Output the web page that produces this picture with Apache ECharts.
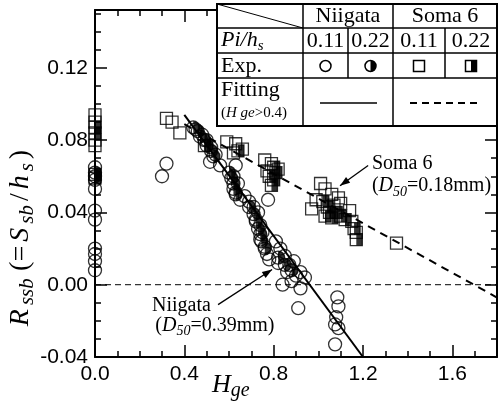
<!DOCTYPE html>
<html><head><meta charset="utf-8">
<script src="https://cdn.jsdelivr.net/npm/echarts@6/dist/echarts.min.js"></script>
<style>html,body{margin:0;padding:0;background:#fff}#c{width:503px;height:405px}</style>
</head><body><div id="c"></div>
<script>
// ---- data (Hge, Rssb) ----
const niigata011 = [
  [0,0.065],[0,0.058],[0,0.053],[0,0.041],[0,0.036],[0,0.020],[0,0.017],[0,0.013],[0,0.008],
  [0.32,0.067],[0.30,0.060],
  [0.45,0.086],[0.48,0.083],[0.50,0.080],[0.52,0.076],[0.54,0.072],[0.515,0.068],[0.56,0.066],
  [0.63,0.066],[0.62,0.060],[0.64,0.056],[0.63,0.051],[0.65,0.047],
  [0.67,0.049],[0.69,0.046],[0.71,0.043],[0.73,0.040],[0.72,0.036],[0.74,0.033],[0.75,0.029],
  [0.74,0.025],[0.76,0.021],[0.77,0.017],[0.78,0.014],[0.775,0.047],
  [0.81,0.024],[0.83,0.020],[0.85,0.016],[0.82,0.012],[0.87,0.011],[0.89,0.013],[0.86,0.007],
  [0.90,0.005],[0.92,0.007],[0.88,0.002],[0.94,0.004],[0.84,0.000],[0.92,-0.002],[0.91,-0.013],
  [1.085,-0.007],[1.09,-0.012],[1.08,-0.018],[1.075,-0.022],[1.09,-0.024],[1.075,-0.033]
];
const niigata022 = [
  [0,0.062],[0,0.060],
  [0.44,0.087],[0.46,0.085],[0.47,0.082],[0.49,0.080],[0.50,0.077],[0.52,0.074],[0.53,0.071],
  [0.60,0.062],[0.61,0.059],[0.62,0.056],[0.62,0.053],[0.63,0.050],
  [0.69,0.043],[0.71,0.039],[0.72,0.035],[0.73,0.031],[0.74,0.028],[0.745,0.024],[0.76,0.020],
  [0.82,0.015],[0.85,0.011],[0.88,0.008]
];
const soma011 = [
  [0,0.094],[0,0.090],[0,0.080],[0,0.077],
  [0.32,0.092],[0.345,0.090],[0.38,0.084],
  [0.59,0.079],[0.63,0.078],[0.62,0.073],[0.66,0.075],
  [0.76,0.069],[0.79,0.067],[0.82,0.064],[0.77,0.063],
  [1.01,0.056],[1.03,0.053],[0.99,0.047],[0.97,0.042],[1.06,0.050],[1.09,0.048],[1.10,0.045],
  [1.07,0.044],[1.14,0.041],[1.15,0.035],[1.17,0.029],[1.35,0.023]
];
const soma022 = [
  [0,0.087],[0,0.084],[0,0.061],[0,0.059],
  [0.49,0.077],[0.64,0.074],
  [0.78,0.060],[0.80,0.058],[0.79,0.055],[0.81,0.062],[0.80,0.065],
  [1.02,0.046],[1.04,0.043],[1.05,0.040],[1.03,0.038],[1.08,0.040],[1.10,0.038],[1.12,0.036],
  [1.16,0.031],[1.17,0.025],[1.06,0.037]
];
const niigataFit = [[0.4,0.094],[1.2,-0.04]];
const somaFit = [[0.4,0.0888],[1.8,-0.0071]];
const zeroLine = [[0,0],[1.8,0]];
const xTicks = {min:0, max:1.8, interval:0.4};
const yTicks = {min:-0.04, max:0.152, interval:0.04};

// ---- styles ----
const BLK = '#000';
const SERIF = 'Liberation Serif';
const SANS = 'Liberation Sans';
const halfCircle = 'path://M-1,0 M0,-1 A1,1 0 0 1 0,1 Z';
const halfSquare = 'path://M-1,-1 M0,-1 L1,-1 L1,1 L0,1 Z';
const CS = 13, SS = 12;

function axis(pos, show, fmt) {
  return {
    type:'value', position:pos, ...(pos==='bottom'||pos==='top'?xTicks:yTicks),
    axisLine:{show:true, onZero:false, lineStyle:{color:BLK, width:2}},
    axisTick:{show:true, inside:true, length:12, lineStyle:{color:BLK, width:1.5}},
    minorTick:{show:true, splitNumber:4, length:6, lineStyle:{color:BLK, width:1.5}},
    splitLine:{show:false},
    axisLabel:{show:show, color:BLK, fontFamily:SANS, fontSize:21, margin:7, formatter:fmt,
      showMaxLabel:false}
  };
}
const chart = echarts.init(document.getElementById('c'));
const openStyle = {color:'rgba(0,0,0,0)', borderColor:BLK, borderWidth:1.3};
chart.setOption({
  animation:false,
  grid:{left:95, right:6, top:10, bottom:48},
  xAxis:[axis('bottom', true, v=>v.toFixed(1)), axis('top', false)],
  yAxis:[axis('left', true, v=>v.toFixed(2)), axis('right', false)],
  series:[
    {type:'line', data:zeroLine, symbol:'none', lineStyle:{color:BLK, width:1, type:[6,4]}},
    {type:'line', data:niigataFit, symbol:'none', lineStyle:{color:BLK, width:2}},
    {type:'line', data:somaFit, symbol:'none', lineStyle:{color:BLK, width:2, type:[8,6]}},
    {type:'scatter', data:niigata011, symbol:'circle', symbolSize:CS, itemStyle:openStyle},
    {type:'scatter', data:niigata022, symbol:'circle', symbolSize:CS, itemStyle:openStyle},
    {type:'scatter', data:niigata022, symbol:halfCircle, symbolSize:CS, itemStyle:{color:BLK}},
    {type:'scatter', data:soma011, symbol:'rect', symbolSize:SS, itemStyle:openStyle},
    {type:'scatter', data:soma022, symbol:'rect', symbolSize:SS, itemStyle:openStyle},
    {type:'scatter', data:soma022, symbol:halfSquare, symbolSize:SS, itemStyle:{color:BLK}}
  ]
});

// ---- annotations & table ----
const somaLabel = [1.24, 0.067], somaLabel2 = [1.24, 0.0545];
const niiLabel = [0.255, -0.0115], niiLabel2 = [0.27, -0.0225];
const somaArrow = [[1.223,0.066],[1.097,0.0548]];
const niiArrow = [[0.551,-0.011],[0.793,0.0084]];
const px = p => chart.convertToPixel({gridIndex:0}, p);
const Z = 100;
const g = [];
function txt(x, y, text, opt) {
  g.push({type:'text', x, y, z:Z, style:Object.assign({text, fill:BLK, font:'21px "'+SERIF+'"',
    align:'left', verticalAlign:'middle'}, opt||{})});
}
function ln(x1,y1,x2,y2,w,dash) {
  g.push({type:'line', z:Z, shape:{x1,y1,x2,y2}, style:{stroke:BLK, lineWidth:w||1.5, lineDash:dash||null}});
}
function arrow(a, b) {
  const p1 = px(a), p2 = px(b);
  ln(p1[0],p1[1],p2[0],p2[1],1.3);
  const ang = Math.atan2(p2[1]-p1[1], p2[0]-p1[0]);
  const L = 10, W = 3.5;
  const bx = p2[0]-L*Math.cos(ang), by = p2[1]-L*Math.sin(ang);
  g.push({type:'polygon', z:Z, shape:{points:[[p2[0],p2[1]],
    [bx+W*Math.sin(ang), by-W*Math.cos(ang)], [bx-W*Math.sin(ang), by+W*Math.cos(ang)]]},
    style:{fill:BLK}});
}
const richBase = {
  n:{fontFamily:SERIF, fontSize:20, fill:BLK, lineHeight:26, verticalAlign:'bottom', padding:[0,0,3,0]},
  i:{fontFamily:SERIF, fontSize:20, fontStyle:'italic', fill:BLK, lineHeight:26, verticalAlign:'bottom', padding:[0,0,3,0]},
  s:{fontFamily:SERIF, fontSize:14, fontStyle:'italic', fill:BLK, lineHeight:16, verticalAlign:'bottom'}
};
// annotations
let p = px(somaLabel); txt(p[0], p[1], 'Soma 6', {font:'20px "'+SERIF+'"'});
p = px(somaLabel2); txt(p[0], p[1], '{n|(}{i|D}{s|50}{n|=0.18mm)}', {rich:richBase});
p = px(niiLabel); txt(p[0], p[1], 'Niigata', {font:'20px "'+SERIF+'"'});
p = px(niiLabel2); txt(p[0], p[1], '{n|(}{i|D}{s|50}{n|=0.39mm)}', {rich:richBase});
arrow(somaArrow[0], somaArrow[1]);
arrow(niiArrow[0], niiArrow[1]);

// table (legend)
const TL=217, TR=497, TT=4, TB=126, C1=303, C2=348, C3=393, C4=445, R1=28, R2=53, R3=78;
g.push({type:'rect', z:Z, shape:{x:TL, y:TT, width:TR-TL, height:TB-TT}, style:{fill:'#fff', stroke:BLK, lineWidth:2}});
ln(TL,R1,TR,R1); ln(TL,R2,TR,R2); ln(TL,R3,TR,R3);
ln(C1,TT,C1,TB); ln(C3,TT,C3,TB); ln(C2,R1,C2,R3); ln(C4,R1,C4,R3);
ln(TL,TT,C1,R1,1);
txt((C1+C3)/2, 16.5, 'Niigata', {align:'center', font:'22px "'+SERIF+'"'});
txt((C3+TR)/2, 16.5, 'Soma 6', {align:'center', font:'22px "'+SERIF+'"'});
txt(221, 41, '{i|Pi/h}{s|s}', {rich:{
  i:{fontFamily:SERIF, fontSize:22, fontStyle:'italic', fill:BLK, lineHeight:26, verticalAlign:'bottom', padding:[0,0,3,0]},
  s:{fontFamily:SERIF, fontSize:15, fontStyle:'italic', fill:BLK, lineHeight:16, verticalAlign:'bottom'}}});
txt((C1+C2)/2, 41, '0.11', {align:'center', font:'22px "'+SERIF+'"'});
txt((C2+C3)/2, 41, '0.22', {align:'center', font:'22px "'+SERIF+'"'});
txt((C3+C4)/2, 41, '0.11', {align:'center', font:'22px "'+SERIF+'"'});
txt((C4+TR)/2, 41, '0.22', {align:'center', font:'22px "'+SERIF+'"'});
txt(221, 66, 'Exp.', {font:'22px "'+SERIF+'"'});
const ey = 66, cx1=(C1+C2)/2, cx2=(C2+C3)/2, cx3=(C3+C4)/2, cx4=(C4+TR)/2, r=5.5;
g.push({type:'circle', z:Z, shape:{cx:cx1, cy:ey, r}, style:{fill:'#fff', stroke:BLK, lineWidth:1.5}});
g.push({type:'circle', z:Z, shape:{cx:cx2, cy:ey, r}, style:{fill:'#fff', stroke:BLK, lineWidth:1.5}});
g.push({type:'sector', z:Z, shape:{cx:cx2, cy:ey, r0:0, r, startAngle:-Math.PI/2, endAngle:Math.PI/2}, style:{fill:BLK}});
g.push({type:'rect', z:Z, shape:{x:cx3-5.5, y:ey-5.5, width:11, height:11}, style:{fill:'#fff', stroke:BLK, lineWidth:1.5}});
g.push({type:'rect', z:Z, shape:{x:cx4-5.5, y:ey-5.5, width:11, height:11}, style:{fill:'#fff', stroke:BLK, lineWidth:1.5}});
g.push({type:'rect', z:Z, shape:{x:cx4, y:ey-5.5, width:5.5, height:11}, style:{fill:BLK}});
txt(221, 90, 'Fitting', {font:'22px "'+SERIF+'"'});
txt(221, 113, '{n|(}{i|H ge}{n|>0.4)}', {rich:{
  n:{fontFamily:SERIF, fontSize:15, fill:BLK}, i:{fontFamily:SERIF, fontSize:15, fontStyle:'italic', fill:BLK}}});
ln(320,103,377,103,1.5);
ln(410,103,480,103,2,[7,5]);

// axis titles
txt(212, 386, '{h|H}{s|ge}', {rich:{
  h:{fontFamily:SERIF, fontSize:26, fontStyle:'italic', fill:BLK, lineHeight:30, verticalAlign:'bottom', padding:[0,0,3,0]},
  s:{fontFamily:SERIF, fontSize:20, fontStyle:'italic', fill:BLK, lineHeight:20, verticalAlign:'bottom'}}});
g.push({type:'text', z:Z, x:22, y:238, rotation:Math.PI/2, style:{
  text:'{i|R}{s|ssb} {n|(=}{i|S}{s|sb}{n|/}{i|h}{s|s}{n|)}', align:'center', verticalAlign:'middle',
  rich:{
    i:{fontFamily:SERIF, fontSize:28, fontStyle:'italic', fill:BLK, lineHeight:32, verticalAlign:'bottom', padding:[0,2,3,2]},
    n:{fontFamily:SERIF, fontSize:28, fill:BLK, lineHeight:32, verticalAlign:'bottom', padding:[0,2,3,2]},
    s:{fontFamily:SERIF, fontSize:21, fontStyle:'italic', fill:BLK, lineHeight:22, verticalAlign:'bottom', padding:[0,2,0,2]}
  }}});
chart.setOption({graphic:g});
</script></body></html>
